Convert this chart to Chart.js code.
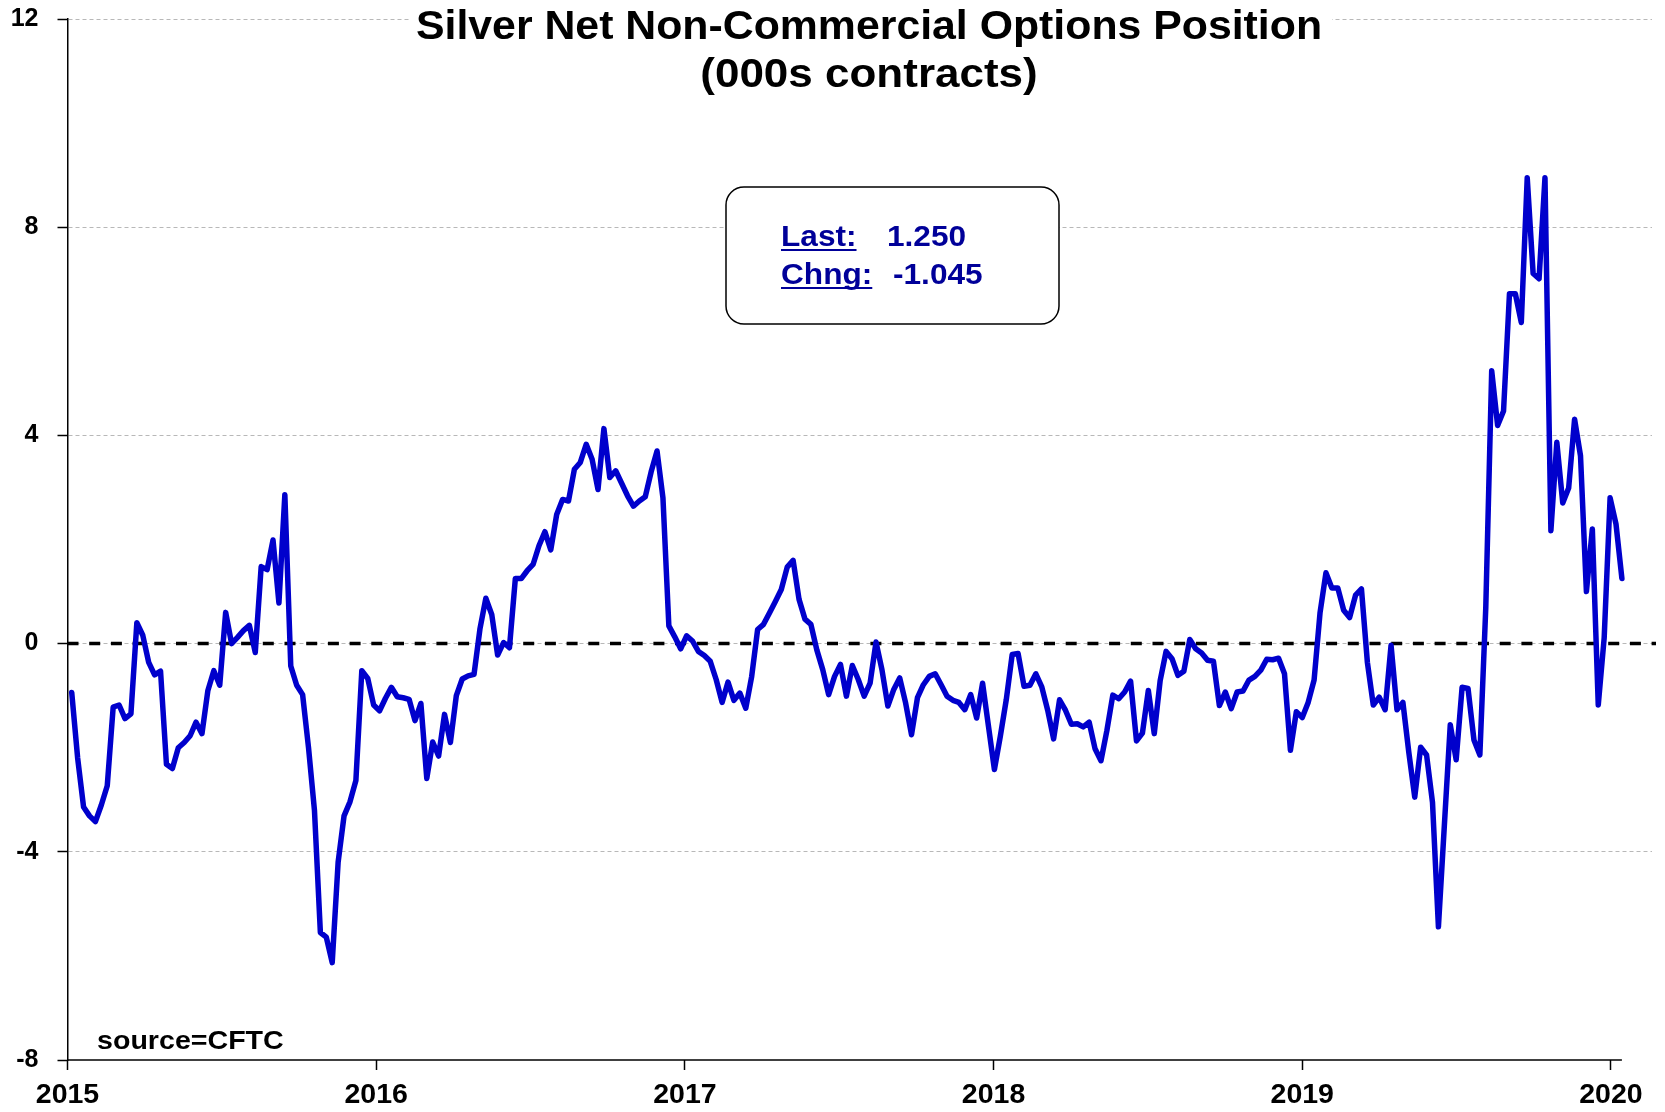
<!DOCTYPE html>
<html>

<head>
    <meta charset="utf-8">
    <script src="https://cdn.jsdelivr.net/npm/chart.js"></script>
    <style>
        html, body { margin: 0; padding: 0; background: #fff; }
        canvas { display: block; }
    </style>
</head>

<body>
    <canvas id="chart_id" width="1665" height="1112"></canvas>
    <script>
        // weekly CFTC reports, first one on 2015-01-06, values in 000s contracts
        const firstWeek = '2015-01-06';

        const values2015 = [-0.94, -2.20, -3.14, -3.31, -3.42, -3.10, -2.73, -1.22, -1.18, -1.44, -1.35, 0.40, 0.16,
            -0.36, -0.60, -0.53, -2.32, -2.40, -2.00, -1.90, -1.77, -1.51, -1.73, -0.90, -0.52, -0.80, 0.60, 0.00,
            0.12, 0.25, 0.35, -0.17, 1.48, 1.42, 1.99, 0.78, 2.86, -0.43, -0.80, -0.98, -2.00, -3.20, -5.55,
            -5.64, -6.13, -4.20, -3.31, -3.04, -2.63, -0.52, -0.67, -1.18];
        const values2016 = [-1.29, -1.05, -0.84, -1.02, -1.04, -1.07, -1.48, -1.15, -2.59, -1.89, -2.16, -1.36, -1.90,
            -1.00, -0.68, -0.62, -0.59, 0.28, 0.87, 0.56, -0.22, 0.02, -0.08, 1.25, 1.25, 1.40, 1.52, 1.88, 2.15,
            1.80, 2.48, 2.77, 2.74, 3.35, 3.48, 3.83, 3.54, 2.96, 4.13, 3.19, 3.32, 3.08, 2.84, 2.64, 2.74, 2.82,
            3.30, 3.70, 2.80, 0.34, 0.13, -0.10];
        const values2017 = [0.15, 0.05, -0.15, -0.23, -0.34, -0.69, -1.13, -0.74, -1.09, -0.95, -1.24, -0.63, 0.27,
            0.37, 0.59, 0.81, 1.04, 1.47, 1.60, 0.85, 0.47, 0.37, -0.12, -0.50, -0.98, -0.63, -0.40, -1.01, -0.42,
            -0.69, -1.01, -0.76, 0.03, -0.50, -1.20, -0.88, -0.66, -1.14, -1.75, -1.04, -0.79, -0.63, -0.58, -0.79,
            -1.01, -1.09, -1.13, -1.27, -0.98, -1.43, -0.76, -1.59];
        const values2018 = [-2.42, -1.78, -1.08, -0.21, -0.19, -0.82, -0.80, -0.58, -0.83, -1.28, -1.83, -1.08, -1.28,
            -1.55, -1.54, -1.60, -1.51, -2.02, -2.25, -1.67, -0.99, -1.06, -0.93, -0.72, -1.87, -1.72, -0.90, -1.73,
            -0.71, -0.15, -0.29, -0.61, -0.53, 0.08, -0.10, -0.18, -0.32, -0.34, -1.19, -0.93, -1.25, -0.93, -0.91,
            -0.70, -0.63, -0.51, -0.30, -0.31, -0.28, -0.58, -2.05, -1.31];
        const values2019 = [-1.42, -1.13, -0.70, 0.59, 1.36, 1.07, 1.07, 0.64, 0.50, 0.93, 1.05, -0.36, -1.18, -1.03,
            -1.27, -0.03, -1.27, -1.13, -2.09, -2.95, -1.99, -2.14, -3.05, -5.44, -3.50, -1.56, -2.23, -0.84, -0.86,
            -1.85, -2.14, 0.69, 5.24, 4.19, 4.47, 6.72, 6.72, 6.17, 8.95, 7.11, 7.01, 8.95, 2.17, 3.87, 2.70, 2.99,
            4.31, 3.61, 1.00, 2.20, -1.18, 0.11, 2.80];
        const values2020 = [2.295, 1.250];

        const yearTicks = [2015, 2016, 2017, 2018, 2019, 2020];
        const valueTicks = [-8, -4, 0, 4, 8, 12];

        const titleLines = ['Silver Net Non-Commercial Options Position', '(000s contracts)'];
        const lastLabel = 'Last:';
        const lastValue = '1.250';
        const chngLabel = 'Chng:';
        const chngValue = '-1.045';
        const sourceText = 'source=CFTC';

        const FONT = '"Liberation Sans", Arial, sans-serif';

        // 1. 날짜 -> 연도 소수값
        function yearFraction(ms) {
            const y = new Date(ms).getUTCFullYear();
            const a = Date.UTC(y, 0, 1);
            const b = Date.UTC(y + 1, 0, 1);
            return y + (ms - a) / (b - a);
        }

        const weekly = [].concat(values2015, values2016, values2017, values2018, values2019, values2020);
        const start = Date.parse(firstWeek + 'T00:00:00Z');
        const points = weekly.map((v, i) => ({ x: yearFraction(start + i * 7 * 864e5), y: v }));

        // 2. 가로로 살짝 넓힌 굵은 글씨
        function wideText(ctx, text, x, y, size, color, sx, align) {
            ctx.save();
            ctx.font = 'bold ' + size + 'px ' + FONT;
            ctx.fillStyle = color;
            ctx.textBaseline = 'alphabetic';
            const w = ctx.measureText(text).width * sx;
            const left = align === 'center' ? x - w / 2 : x;
            ctx.translate(left, y);
            ctx.scale(sx, 1);
            ctx.fillText(text, 0, 0);
            ctx.restore();
            return { left: left, width: w };
        }

        function underline(ctx, box, y, color) {
            ctx.save();
            ctx.strokeStyle = color;
            ctx.lineWidth = 2;
            ctx.beginPath();
            ctx.moveTo(box.left, y);
            ctx.lineTo(box.left + box.width, y);
            ctx.stroke();
            ctx.restore();
        }

        const zeroLine = {
            id: 'zeroLine',
            beforeDatasetsDraw(chart) {
                const { ctx, chartArea, scales: { y } } = chart;
                const py = y.getPixelForValue(0);
                ctx.save();
                ctx.strokeStyle = '#000';
                ctx.lineWidth = 3.5;
                ctx.setLineDash([11, 10.7]);
                ctx.beginPath();
                ctx.moveTo(chartArea.left, py);
                ctx.lineTo(chartArea.right + 4, py);
                ctx.stroke();
                ctx.restore();
            }
        };

        const decorations = {
            id: 'decorations',
            afterDatasetsDraw(chart) {
                const { ctx, chartArea, scales: { x } } = chart;

                // x axis line, ends at the last report
                ctx.save();
                ctx.strokeStyle = '#000';
                ctx.lineWidth = 1.5;
                ctx.beginPath();
                ctx.moveTo(chartArea.left, chartArea.bottom);
                ctx.lineTo(x.getPixelForValue(points[points.length - 1].x), chartArea.bottom);
                ctx.stroke();
                ctx.restore();

                // title
                ctx.save();
                ctx.fillStyle = '#fff';
                ctx.fillRect(410, 0, 922, 44);
                ctx.restore();
                wideText(ctx, titleLines[0], 869, 39, 40, '#000', 1.07, 'center');
                wideText(ctx, titleLines[1], 869, 87, 40, '#000', 1.1, 'center');

                // last / change box
                ctx.save();
                ctx.beginPath();
                ctx.roundRect(726, 187, 333, 137, 18);
                ctx.fillStyle = '#fff';
                ctx.fill();
                ctx.strokeStyle = '#000';
                ctx.lineWidth = 1.5;
                ctx.stroke();
                ctx.restore();
                const blue = '#000099';
                const l1 = wideText(ctx, lastLabel, 781, 246, 29, blue, 1.09);
                underline(ctx, l1, 250, blue);
                wideText(ctx, lastValue, 887, 246, 29, blue, 1.09);
                const l2 = wideText(ctx, chngLabel, 781, 284, 29, blue, 1.09);
                underline(ctx, l2, 288, blue);
                wideText(ctx, chngValue, 893, 284, 29, blue, 1.09);

                // source
                wideText(ctx, sourceText, 97, 1049, 26, '#000', 1.1);
            }
        };

        new Chart(document.getElementById('chart_id'), {
            type: 'line',
            data: {
                datasets: [{
                    data: points,
                    borderColor: '#0000CC',
                    borderWidth: 5.5,
                    pointRadius: 0,
                    tension: 0,
                    borderJoinStyle: 'round',
                    borderCapStyle: 'round'
                }]
            },
            options: {
                responsive: false,
                animation: false,
                devicePixelRatio: 1,
                layout: { padding: { top: 19, right: 13, left: 0, bottom: 0 } },
                plugins: { legend: { display: false }, tooltip: { enabled: false } },
                scales: {
                    x: {
                        type: 'linear',
                        min: 2015,
                        max: 2020.133,
                        afterBuildTicks: s => { s.ticks = yearTicks.map(v => ({ value: v })); },
                        afterFit: s => { s.height = 52; },
                        grid: { drawOnChartArea: false, tickLength: 10, tickColor: '#000', tickWidth: 1.5 },
                        border: { display: false },
                        ticks: {
                            color: '#000',
                            font: { family: FONT, size: 28.5, weight: 'bold' },
                            padding: 8,
                            maxRotation: 0,
                            autoSkip: false,
                            callback: v => String(v)
                        }
                    },
                    y: {
                        min: -8,
                        max: 12,
                        afterBuildTicks: s => { s.ticks = valueTicks.map(v => ({ value: v })); },
                        afterFit: s => { s.width = 67.5; s.paddingTop = 0; s.paddingBottom = 0; },
                        grid: {
                            color: c => (c.tick && c.tick.value === -8) ? 'rgba(0,0,0,0)' : '#b8b8b8',
                            lineWidth: 1,
                            tickLength: 10,
                            tickColor: '#000',
                            tickWidth: 1.5
                        },
                        border: { display: true, color: '#000', width: 1.5, dash: [4, 3] },
                        ticks: {
                            color: '#000',
                            font: { family: FONT, size: 25, weight: 'bold' },
                            padding: 19,
                            callback: v => String(v)
                        }
                    }
                }
            },
            plugins: [zeroLine, decorations]
        });
    </script>
</body>

</html>
